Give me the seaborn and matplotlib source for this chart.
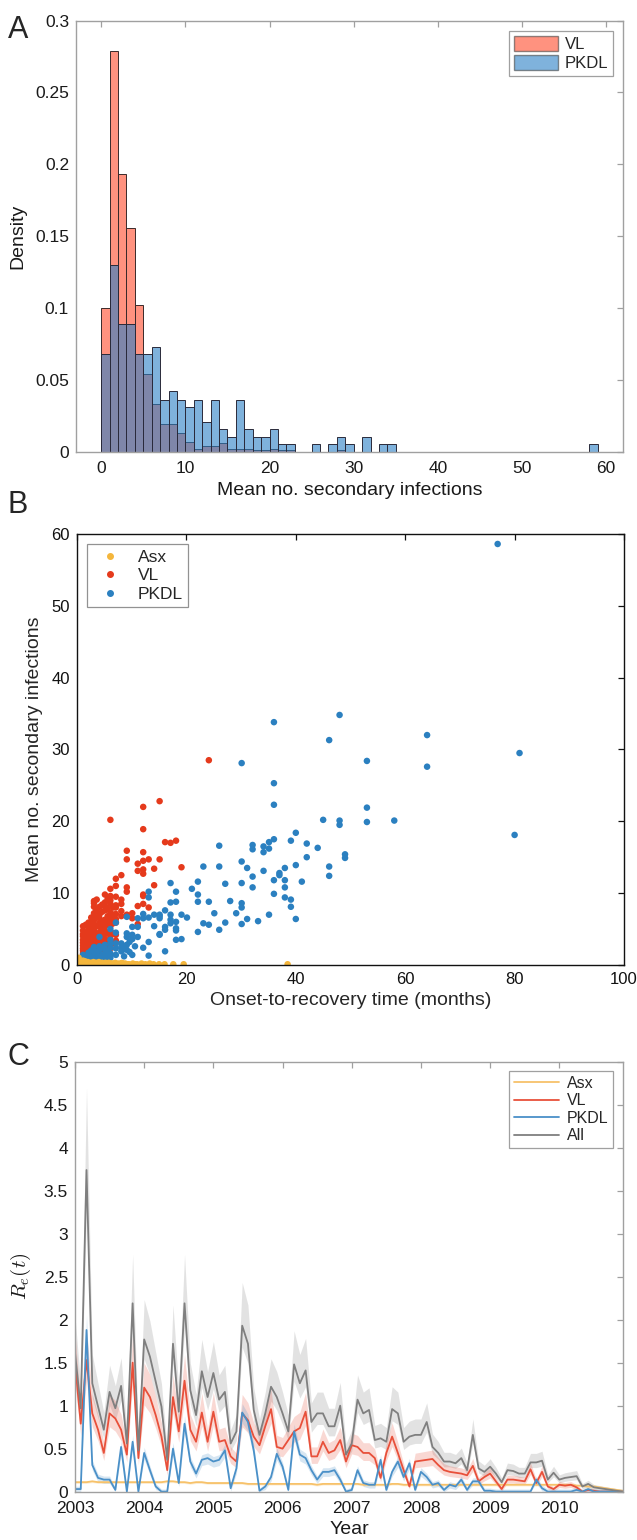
import numpy as np
import pandas as pd
import matplotlib
matplotlib.use('Agg')
import matplotlib.pyplot as plt
import seaborn as sns
from matplotlib.patches import Patch
from matplotlib.lines import Line2D
from matplotlib.ticker import FuncFormatter

sns.set_style('white')
plt.rcParams['font.family'] = ['Liberation Sans', 'DejaVu Sans']
plt.rcParams['mathtext.fontset'] = 'cm'

# ---- A: histogram of mean no. secondary infections (density per bin of width 1) ----
bin_edges = list(range(0, 61))
vl_density = [0.100, 0.279, 0.193, 0.156, 0.102, 0.054, 0.033, 0.019, 0.019, 0.013,
              0.007, 0.002, 0.004, 0.004, 0.006, 0.002, 0.002, 0.002, 0.001, 0.001,
              0.002, 0.001, 0.001, 0, 0, 0, 0, 0, 0.001, 0,
              0, 0, 0, 0, 0, 0, 0, 0, 0, 0,
              0, 0, 0, 0, 0, 0, 0, 0, 0, 0,
              0, 0, 0, 0, 0, 0, 0, 0, 0, 0]
pkdl_density = [0.068, 0.130, 0.089, 0.089, 0.068, 0.068, 0.073, 0.036, 0.042, 0.036,
                0.031, 0.036, 0.021, 0.036, 0.016, 0.010, 0.036, 0.016, 0.010, 0.010,
                0.016, 0.005, 0.005, 0, 0, 0.005, 0, 0.005, 0.010, 0.005,
                0, 0.010, 0, 0.005, 0.005, 0, 0, 0, 0, 0,
                0, 0, 0, 0, 0, 0, 0, 0, 0, 0,
                0, 0, 0, 0, 0, 0, 0, 0, 0.005, 0]

# ---- B: onset-to-recovery time (months) -> mean no. secondary infections ----
asx_points = {0.1: [0.2, 0.5, 0.9], 0.3: [0.1, 0.4, 0.7, 1.0], 0.5: [0.2, 0.6],
              0.8: [0.1, 0.3, 0.5], 1.1: [0.2, 0.4, 0.6], 1.5: [0.1, 0.3, 0.5], 2.0: [0.2, 0.4],
              2.5: [0.1, 0.3], 3.0: [0.2, 0.4], 3.5: [0.1, 0.3], 4.0: [0.2, 0.4],
              4.6: [0.1, 0.3], 5.2: [0.2, 0.3], 5.8: [0.1, 0.3], 6.2: [0.2], 6.5: [0.2],
              7.0: [0.1, 0.3], 7.6: [0.2], 8.2: [0.1, 0.3], 8.8: [0.2], 9.2: [0.1], 9.5: [0.1],
              10.2: [0.2], 10.6: [0.1], 11.0: [0.1], 11.8: [0.2], 12.5: [0.1], 13.3: [0.2],
              14.0: [0.1], 15.0: [0.1], 16.0: [0.1], 17.6: [0.1], 19.5: [0.1], 38.5: [0.1]}
vl_points = {1.1: [0.5, 0.9, 1.3, 1.6, 2.0, 2.3, 2.7, 3.1, 3.5, 4.0, 4.3, 4.8, 5.4],
             1.6: [0.8, 1.8, 2.8, 3.8, 4.6, 5.6],
             2.1: [0.6, 1.1, 1.5, 1.9, 2.5, 2.9, 3.3, 3.6, 4.0, 4.5, 5.0, 5.5, 5.9],
             2.6: [1.2, 2.2, 3.2, 4.2, 5.2, 6.0, 6.6],
             3.1: [0.7, 1.0, 1.4, 1.8, 2.1, 2.6, 3.1, 3.5, 4.0, 4.6, 5.0, 5.7, 6.2, 7.2, 8.1, 8.6, 8.9],
             3.6: [1.6, 2.6, 3.6, 4.4, 5.4, 6.6, 7.6, 9.1],
             4.1: [0.8, 1.3, 1.9, 2.4, 2.9, 3.4, 3.9, 4.5, 5.3, 5.8, 6.5, 7.0, 8.1],
             4.6: [2.0, 3.0, 4.0, 5.0, 6.0, 7.4, 8.4],
             5.1: [0.9, 1.6, 2.2, 2.8, 3.0, 3.6, 4.3, 4.8, 5.4, 6.0, 6.3, 7.6, 8.2, 8.7, 9.8],
             5.6: [2.4, 3.4, 4.4, 5.6, 6.8, 7.8, 9.2],
             6.1: [1.5, 2.3, 2.8, 3.3, 4.0, 4.6, 5.4, 6.0, 6.5, 7.0, 7.3, 8.5, 9.0, 9.6, 10.6, 20.2],
             6.6: [3.0, 4.4, 5.8, 7.0, 8.0],
             7.1: [3.4, 4.2, 5.9, 6.4, 7.1, 8.0, 8.3, 9.5, 11.0, 12.0],
             8.1: [6.8, 7.5, 8.5, 9.1, 12.5],
             9.1: [7.0, 10.2, 10.8, 14.7, 15.9],
             10.1: [6.5, 7.2],
             11.1: [5.7, 8.2, 13.1, 14.1],
             12.1: [8.5, 9.6, 9.8, 12.7, 13.3, 14.5, 15.7, 18.9, 22.0],
             13.1: [8.0, 14.7],
             14.1: [11.1, 13.4],
             15.1: [14.7, 22.8],
             16.1: [17.1], 17.1: [17.0], 18.1: [17.3], 19.1: [13.6], 24.1: [28.5]}
pkdl_points = {1.1: [0.3, 0.7, 1.0, 1.4], 1.6: [0.5, 1.0], 2.1: [0.5, 0.9, 1.3, 1.7],
               2.6: [0.7, 1.2, 2.0], 3.1: [0.8, 1.4, 2.0, 2.5], 3.6: [1.0, 1.8],
               4.1: [0.8, 1.2, 2.1, 2.6, 3.9], 4.6: [1.4, 2.4], 5.1: [0.9, 1.6, 2.2, 2.8],
               5.6: [1.2, 2.0], 6.1: [1.0, 1.6, 2.4, 3.0, 3.5, 5.0], 7.1: [1.4, 2.3, 3.0, 4.5, 5.9],
               8.1: [1.9, 2.5, 3.0], 8.6: [1.2, 2.2], 9.1: [2.1, 2.8, 3.9, 4.4, 6.7],
               9.6: [1.8, 3.2], 10.1: [1.4, 3.6, 4.2, 5.3], 10.6: [2.6],
               11.1: [3.9, 5.3, 6.5], 12.1: [2.4, 6.5, 7.1], 13.1: [1.3, 3.2, 6.6, 9.4, 10.2],
               14.1: [5.4, 7.0], 15.1: [4.2, 4.3, 6.5, 6.8, 7.0], 16.1: [1.9, 4.9, 5.3, 7.6],
               17.1: [5.8, 6.3, 7.0, 8.7, 11.4], 18.1: [3.5, 4.8, 5.1, 6.0, 8.8, 10.2],
               19.1: [3.6, 7.0], 20.1: [6.6], 21.0: [10.6], 22.1: [4.6, 8.8, 9.8, 11.6],
               23.1: [5.8, 13.7], 24.1: [5.6, 8.8], 25.1: [7.2], 26.0: [4.9, 13.7, 16.6],
               27.1: [5.9, 11.3], 28.0: [8.9], 29.1: [7.2], 30.1: [5.7, 8.0, 8.6, 11.4, 14.4, 28.1],
               31.1: [6.4, 13.5], 32.1: [10.8, 12.3, 16.1, 16.7], 33.1: [6.1],
               34.1: [13.1, 15.7, 16.5], 35.1: [7.0, 16.2, 17.1],
               36.0: [9.9, 11.8, 17.5, 22.3, 25.3, 33.8], 37.0: [12.5, 12.8],
               38.0: [9.4, 10.8, 11.8, 13.5], 39.1: [8.1, 9.1, 17.3], 40.0: [6.4, 13.9, 18.4],
               41.1: [11.6], 42.0: [15.0, 16.9], 44.0: [16.3], 45.0: [20.2],
               46.1: [12.4, 13.7, 31.3], 48.0: [19.5, 20.1, 34.8], 49.0: [14.9, 15.4],
               53.0: [19.9, 21.9, 28.4], 58.0: [20.1], 64.0: [27.6, 32.0], 76.9: [58.6],
               80.0: [18.1], 80.9: [29.5]}

# ---- C: monthly effective reproduction number, Jan 2003 - Dec 2010 ----
start_year = 2003
asx_re = [0.11, 0.11, 0.11, 0.12, 0.11, 0.11, 0.11, 0.11, 0.11, 0.11, 0.11, 0.11,
          0.11, 0.11, 0.11, 0.11, 0.12, 0.12, 0.11, 0.11, 0.10, 0.11, 0.11, 0.10,
          0.10, 0.10, 0.10, 0.10, 0.10, 0.10, 0.09, 0.09, 0.09, 0.09, 0.09, 0.09,
          0.09, 0.09, 0.09, 0.09, 0.09, 0.09, 0.08, 0.09, 0.09, 0.09, 0.09, 0.09,
          0.09, 0.09, 0.08, 0.08, 0.08, 0.08, 0.08, 0.09, 0.09, 0.08, 0.08, 0.08,
          0.08, 0.08, 0.08, 0.08, 0.08, 0.08, 0.08, 0.08, 0.08, 0.08, 0.08, 0.08,
          0.08, 0.08, 0.08, 0.08, 0.08, 0.08, 0.08, 0.08, 0.08, 0.08, 0.08, 0.08,
          0.08, 0.08, 0.08, 0.07, 0.07, 0.06, 0.06, 0.05, 0.04, 0.03, 0.02, 0.01]
vl_re = [1.50, 0.79, 1.53, 0.91, 0.72, 0.45, 0.91, 0.85, 0.72, 0.43, 1.50, 0.39,
         1.21, 1.10, 0.89, 0.64, 0.25, 1.10, 0.70, 1.29, 0.72, 0.58, 0.92, 0.58,
         0.93, 0.58, 0.60, 0.41, 0.35, 0.91, 0.83, 0.64, 0.54, 0.76, 0.96, 0.52,
         0.50, 0.60, 0.70, 0.74, 0.93, 0.41, 0.41, 0.58, 0.45, 0.48, 0.60, 0.35,
         0.54, 0.52, 0.45, 0.45, 0.39, 0.16, 0.45, 0.64, 0.45, 0.25, 0.06, 0.35,
         0.36, 0.37, 0.38, 0.31, 0.25, 0.23, 0.22, 0.21, 0.19, 0.30, 0.12, 0.17,
         0.21, 0.12, 0.03, 0.14, 0.14, 0.13, 0.12, 0.26, 0.10, 0.23, 0.06, 0.03,
         0.08, 0.07, 0.08, 0.05, 0.00, 0.02, 0.01, 0.00, 0.00, 0.00, 0.00, 0.00]
pkdl_re = [0.03, 0.03, 1.88, 0.31, 0.16, 0.14, 0.14, 0.02, 0.52, 0.00, 0.58, 0.00,
           0.45, 0.25, 0.06, 0.00, 0.00, 0.50, 0.10, 0.79, 0.35, 0.21, 0.37, 0.39,
           0.35, 0.37, 0.48, 0.04, 0.27, 0.92, 0.81, 0.48, 0.01, 0.06, 0.17, 0.44,
           0.29, 0.02, 0.70, 0.43, 0.39, 0.25, 0.14, 0.23, 0.23, 0.25, 0.14, 0.00,
           0.02, 0.25, 0.10, 0.08, 0.08, 0.37, 0.02, 0.23, 0.35, 0.17, 0.33, 0.02,
           0.23, 0.17, 0.08, 0.10, 0.02, 0.08, 0.06, 0.14, 0.02, 0.12, 0.12, 0.01,
           0.01, 0.00, 0.00, 0.00, 0.00, 0.00, 0.00, 0.00, 0.14, 0.04, 0.00, 0.00,
           0.00, 0.00, 0.00, 0.02, 0.00, 0.03, 0.00, 0.00, 0.00, 0.00, 0.00, 0.00]
all_re = [1.62, 0.97, 3.74, 1.26, 0.99, 0.72, 1.16, 0.97, 1.23, 0.56, 2.19, 0.48,
          1.77, 1.57, 1.28, 0.99, 0.37, 1.72, 0.93, 2.19, 1.18, 0.89, 1.40, 1.10,
          1.38, 1.07, 1.16, 0.56, 0.70, 1.93, 1.72, 0.95, 0.66, 0.91, 1.22, 1.10,
          0.91, 0.70, 1.48, 1.26, 1.41, 0.81, 0.91, 0.91, 0.76, 0.76, 1.00, 0.43,
          0.56, 1.07, 0.91, 0.95, 0.60, 0.62, 0.58, 0.96, 0.91, 0.58, 0.64, 0.66,
          0.66, 0.81, 0.52, 0.45, 0.35, 0.35, 0.33, 0.39, 0.25, 0.66, 0.27, 0.23,
          0.29, 0.21, 0.11, 0.25, 0.24, 0.21, 0.21, 0.34, 0.34, 0.36, 0.14, 0.22,
          0.14, 0.16, 0.17, 0.18, 0.06, 0.09, 0.05, 0.04, 0.03, 0.02, 0.01, 0.00]
# credible band as (lower factor, upper factor, absolute pad)
ci_all = (0.88, 1.25, 0.02)
ci_vl = (0.85, 1.22, 0.02)
ci_pkdl = (0.90, 1.08, 0.03)
ci_asx = (1.0, 1.0, 0.015)

col_vl_hist = '#ff4a2a'
col_pkdl_hist = '#2a7fc6'
col_asx = '#f4b63c'
col_vl = '#e53a1c'
col_pkdl = '#2b80c0'
col_asx_line = '#f7c26a'
col_vl_line = '#e8503a'
col_pkdl_line = '#4a90c8'
col_all_line = '#7f7f7f'
gray_axis = '#a0a0a0'

fig = plt.figure(figsize=(6.37, 15.4), dpi=100)
axA = fig.add_axes([0.1193, 0.7067, 0.8587, 0.2799])
axB = fig.add_axes([0.1209, 0.3734, 0.8587, 0.2799])
axC = fig.add_axes([0.1177, 0.0314, 0.8603, 0.2792])

fmt = FuncFormatter(lambda v, p: f'{v:g}')


def style_box(ax, color):
    for sp in ax.spines.values():
        sp.set_visible(True)
        sp.set_color(color)
        sp.set_linewidth(1.0)
    ax.tick_params(direction='in', top=True, right=True, color=color,
                   labelcolor='#1a1a1a', labelsize=12.5, length=4, width=0.9, pad=5)


# ---------------- A ----------------
centers = [b + 0.5 for b in bin_edges[:-1]]
sns.histplot(x=centers, weights=vl_density, bins=bin_edges, color=col_vl_hist,
             alpha=0.6, edgecolor='#3a2a2a', linewidth=0.7, ax=axA)
sns.histplot(x=centers, weights=pkdl_density, bins=bin_edges, color=col_pkdl_hist,
             alpha=0.6, edgecolor='#2a2a3a', linewidth=0.7, ax=axA)
axA.set_xlim(-3, 62)
axA.set_ylim(0, 0.3)
axA.set_xticks(range(0, 61, 10))
axA.set_yticks(np.arange(0, 0.301, 0.05))
axA.yaxis.set_major_formatter(fmt)
style_box(axA, gray_axis)
axA.tick_params(axis='x', pad=7)
axA.set_xlabel('Mean no. secondary infections', fontsize=14, color='#1a1a1a', labelpad=4)
axA.set_ylabel('Density', fontsize=14, color='#1a1a1a', labelpad=6)
legA = axA.legend(handles=[Patch(facecolor=col_vl_hist, alpha=0.6, edgecolor='#444444', label='VL'),
                           Patch(facecolor=col_pkdl_hist, alpha=0.6, edgecolor='#444444', label='PKDL')],
                  loc='upper right', fontsize=12, frameon=True, fancybox=False,
                  edgecolor='#888888', handlelength=2.6, handleheight=1.0,
                  borderaxespad=0.6, handletextpad=0.4, borderpad=0.3, labelspacing=0.2)
legA.get_frame().set_linewidth(0.9)

# ---------------- B ----------------
rows = []
for grp, pts in [('VL', vl_points), ('PKDL', pkdl_points), ('Asx', asx_points)]:
    for t, ys in pts.items():
        for yv in ys:
            rows.append((grp, t, yv))
dfB = pd.DataFrame(rows, columns=['type', 'time', 'mean'])
sns.scatterplot(data=dfB, x='time', y='mean', hue='type', hue_order=['Asx', 'VL', 'PKDL'],
                palette={'Asx': col_asx, 'VL': col_vl, 'PKDL': col_pkdl},
                s=22, linewidth=0, legend=False, ax=axB)
axB.set_xlim(0, 100)
axB.set_ylim(0, 60)
axB.set_xticks(range(0, 101, 20))
axB.set_yticks(range(0, 61, 10))
style_box(axB, '#111111')
axB.tick_params(labelcolor='#111111', labelsize=12)
axB.set_xlabel('Onset-to-recovery time (months)', fontsize=14, labelpad=4)
axB.set_ylabel('Mean no. secondary infections', fontsize=14, labelpad=6)
legB = axB.legend(handles=[Line2D([], [], ls='none', marker='o', ms=4, color=c, label=l)
                           for l, c in [('Asx', col_asx), ('VL', col_vl), ('PKDL', col_pkdl)]],
                  loc='upper left', fontsize=12.5, frameon=True, fancybox=False,
                  edgecolor='#777777', handlelength=2.0, borderaxespad=0.6,
                  handletextpad=0.6, borderpad=0.3, labelspacing=0.2)
legB.get_frame().set_linewidth(0.9)

# ---------------- C ----------------
years = [start_year + m / 12 for m in range(len(all_re))]
series = [('Asx', asx_re, col_asx_line, ci_asx),
          ('VL', vl_re, col_vl_line, ci_vl),
          ('PKDL', pkdl_re, col_pkdl_line, ci_pkdl),
          ('All', all_re, col_all_line, ci_all)]
for name, vals, col, (lo, hi, pad) in [series[3], series[1], series[2], series[0]]:
    v = np.array(vals)
    axC.fill_between(years, np.clip(v * lo - pad, 0, None), v * hi + pad,
                     color=col, alpha=0.22, linewidth=0)
for name, vals, col, ci in series:
    sns.lineplot(x=years, y=vals, color=col, linewidth=1.3, ax=axC, label=name)
axC.set_xlim(2003, 2010.92)
axC.set_ylim(0, 5)
axC.set_xticks(range(2003, 2011))
axC.set_yticks(np.arange(0, 5.01, 0.5))
axC.yaxis.set_major_formatter(fmt)
style_box(axC, gray_axis)
axC.tick_params(axis='x', pad=7)
axC.set_xlabel('Year', fontsize=14, color='#1a1a1a', labelpad=3)
axC.set_ylabel(r'$R_e(t)$', fontsize=15, color='#1a1a1a', labelpad=8)
legC = axC.legend(loc='upper right', fontsize=11.5, frameon=True, fancybox=False,
                  edgecolor='#888888', handlelength=2.8, borderaxespad=0.6,
                  handletextpad=0.5, borderpad=0.3, labelspacing=0.15)
legC.get_frame().set_linewidth(0.9)

for letter, y in [('A', 0.9905), ('B', 0.6815), ('C', 0.3235)]:
    fig.text(0.012, y, letter, fontsize=22, va='top', ha='left')

fig.savefig('out.png', dpi=100, facecolor='white')
